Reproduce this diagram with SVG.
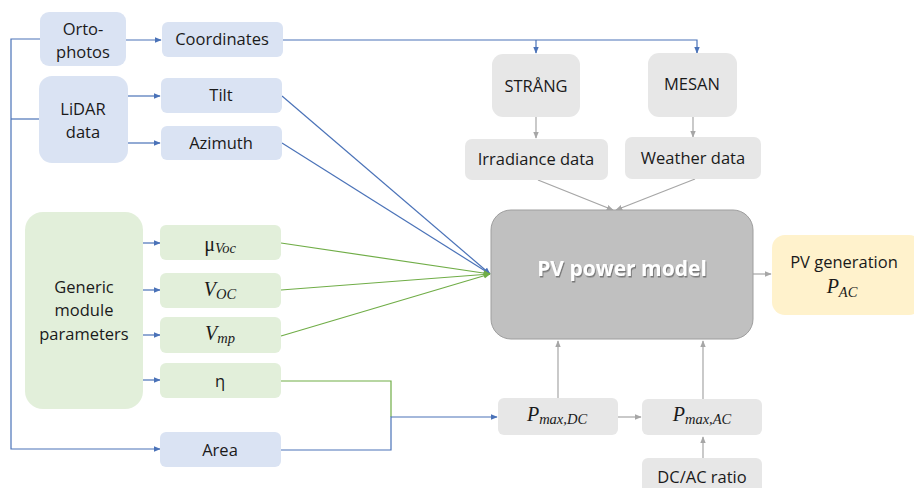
<svg xmlns="http://www.w3.org/2000/svg" width="914" height="488" viewBox="0 0 914 488">
<style>
.t{font-family:"Open Sans","Noto Sans","Liberation Sans",sans-serif;font-size:16.5px;fill:#1a1a1a;text-anchor:middle}
.m{font-family:"Liberation Serif","DejaVu Serif",serif;font-size:20px;fill:#1a1a1a;text-anchor:middle;font-style:italic}
.s{font-size:14.5px}
.blue{fill:#dae3f3}
.green{fill:#e2efda}
.gray{fill:#e7e7e7}
.lb{fill:none;stroke:#4a72b8;stroke-width:1.2}
.lg{fill:none;stroke:#70ad47;stroke-width:1.2}
.lr{fill:none;stroke:#a6a6a6;stroke-width:1.2}
</style>
<defs>
<marker id="ab" viewBox="0 0 10 10" refX="9" refY="5" markerWidth="7" markerHeight="7" orient="auto" markerUnits="userSpaceOnUse"><path d="M0,1 L10,5 L0,9 z" fill="#4a72b8"/></marker>
<marker id="ag" viewBox="0 0 10 10" refX="9" refY="5" markerWidth="7" markerHeight="7" orient="auto" markerUnits="userSpaceOnUse"><path d="M0,1 L10,5 L0,9 z" fill="#70ad47"/></marker>
<marker id="ar" viewBox="0 0 10 10" refX="9" refY="5" markerWidth="7" markerHeight="7" orient="auto" markerUnits="userSpaceOnUse"><path d="M0,1 L10,5 L0,9 z" fill="#a6a6a6"/></marker>
<filter id="sh" x="-10%" y="-30%" width="120%" height="160%"><feDropShadow dx="1" dy="1.5" stdDeviation="0.6" flood-color="#6f6f6f" flood-opacity="0.9"/></filter>
</defs>

<g id="connectors">
<path class="lb" d="M40,39 H11 V449 H160" marker-end="url(#ab)"/>
<path class="lb" d="M11,119 H39"/>
<path class="lb" d="M125,40 H161" marker-end="url(#ab)"/>
<path class="lb" d="M128,96 H160" marker-end="url(#ab)"/>
<path class="lb" d="M128,143 H160" marker-end="url(#ab)"/>
<path class="lb" d="M283,40 H697 V53" marker-end="url(#ab)"/>
<path class="lb" d="M536,40 V53" marker-end="url(#ab)"/>
<path class="lr" d="M536,117 V138" marker-end="url(#ar)"/>
<path class="lr" d="M693,117 V137" marker-end="url(#ar)"/>
<path class="lr" d="M538,180 L613,210" marker-end="url(#ar)"/>
<path class="lr" d="M695,179 L616,210" marker-end="url(#ar)"/>
<path class="lb" d="M282,96 L490,274" marker-end="url(#ab)"/>
<path class="lb" d="M282,143 L490,274" marker-end="url(#ab)"/>
<path class="lb" d="M143,243 H160" marker-end="url(#ab)"/>
<path class="lb" d="M143,290 H160" marker-end="url(#ab)"/>
<path class="lb" d="M143,335 H160" marker-end="url(#ab)"/>
<path class="lb" d="M143,380 H160" marker-end="url(#ab)"/>
<path class="lg" d="M281,243 L490,274" marker-end="url(#ag)"/>
<path class="lg" d="M281,290 L490,274" marker-end="url(#ag)"/>
<path class="lg" d="M281,336 L490,274" marker-end="url(#ag)"/>
<path class="lg" d="M281,381 H391 V417"/>
<path class="lb" d="M281,450 H391 V417 H497" marker-end="url(#ab)"/>
<path class="lr" d="M618,417 H641" marker-end="url(#ar)"/>
<path class="lr" d="M558,398 V341" marker-end="url(#ar)"/>
<path class="lr" d="M703,399 V341" marker-end="url(#ar)"/>
<path class="lr" d="M703,458 V437" marker-end="url(#ar)"/>
<path class="lr" d="M753,274 H771" marker-end="url(#ar)"/>
</g>

<g id="ortophotos"><rect class="blue" x="40" y="12" width="86" height="54" rx="9"/><text class="t" x="83" y="35">Orto-</text><text class="t" x="83" y="58">photos</text></g>
<g id="coordinates"><rect class="blue" x="162" y="22" width="121" height="35" rx="6"/><text class="t" x="222" y="45">Coordinates</text></g>
<g id="lidar"><rect class="blue" x="39" y="76" width="89" height="87" rx="13"/><text class="t" x="83" y="115">LiDAR</text><text class="t" x="83" y="138">data</text></g>
<g id="tilt"><rect class="blue" x="161" y="78" width="121" height="35" rx="6"/><text class="t" x="221" y="101">Tilt</text></g>
<g id="azimuth"><rect class="blue" x="161" y="126" width="121" height="34" rx="6"/><text class="t" x="221" y="149">Azimuth</text></g>

<g id="strang"><rect class="gray" x="492" y="54" width="88" height="63" rx="11"/><text class="t" x="536" y="92">STRÅNG</text></g>
<g id="mesan"><rect class="gray" x="648" y="53" width="89" height="64" rx="11"/><text class="t" x="692" y="90">MESAN</text></g>
<g id="irradiance"><rect class="gray" x="465" y="139" width="143" height="41" rx="7"/><text class="t" x="536" y="165">Irradiance data</text></g>
<g id="weather"><rect class="gray" x="625" y="137" width="136" height="42" rx="7"/><text class="t" x="693" y="164">Weather data</text></g>

<g id="pvmodel"><rect x="491" y="210" width="262" height="129" rx="20" fill="#c0c0c0" stroke="#9e9e9e" stroke-width="1"/><text x="622" y="276" text-anchor="middle" font-family="'Open Sans','Noto Sans',sans-serif" font-size="21" font-weight="bold" fill="#ffffff" filter="url(#sh)">PV power model</text></g>
<g id="pvgen"><rect x="772" y="235" width="150" height="80" rx="13" fill="#fff2cc"/><text class="t" x="844" y="268">PV generation</text><text class="m" x="842" y="293">P<tspan class="s" dy="4">AC</tspan></text></g>

<g id="generic"><rect class="green" x="25" y="212" width="118" height="197" rx="18"/><text class="t" x="84" y="293">Generic</text><text class="t" x="84" y="316">module</text><text class="t" x="84" y="340">parameters</text></g>
<g id="muvoc"><rect class="green" x="160" y="225" width="121" height="35" rx="6"/><text class="m" x="220" y="251"><tspan font-style="normal">μ</tspan><tspan class="s" dy="2">Voc</tspan></text></g>
<g id="voc"><rect class="green" x="160" y="273" width="121" height="35" rx="6"/><text class="m" x="220" y="296">V<tspan class="s" dy="3">OC</tspan></text></g>
<g id="vmp"><rect class="green" x="160" y="317" width="121" height="36" rx="6"/><text class="m" x="220" y="340">V<tspan class="s" dy="3">mp</tspan></text></g>
<g id="eta"><rect class="green" x="160" y="363" width="121" height="35" rx="6"/><text class="t" x="220" y="387">η</text></g>
<g id="area"><rect class="blue" x="160" y="432" width="121" height="35" rx="6"/><text class="t" x="220" y="456">Area</text></g>

<g id="pmaxdc"><rect class="gray" x="498" y="398" width="120" height="37" rx="6"/><text class="m" x="557" y="421">P<tspan class="s" dy="3">max,DC</tspan></text></g>
<g id="pmaxac"><rect class="gray" x="642" y="399" width="120" height="36" rx="6"/><text class="m" x="702" y="421">P<tspan class="s" dy="3">max,AC</tspan></text></g>
<g id="dcac"><rect class="gray" x="642" y="458" width="120" height="40" rx="6"/><text class="t" x="702" y="483">DC/AC ratio</text></g>
</svg>
